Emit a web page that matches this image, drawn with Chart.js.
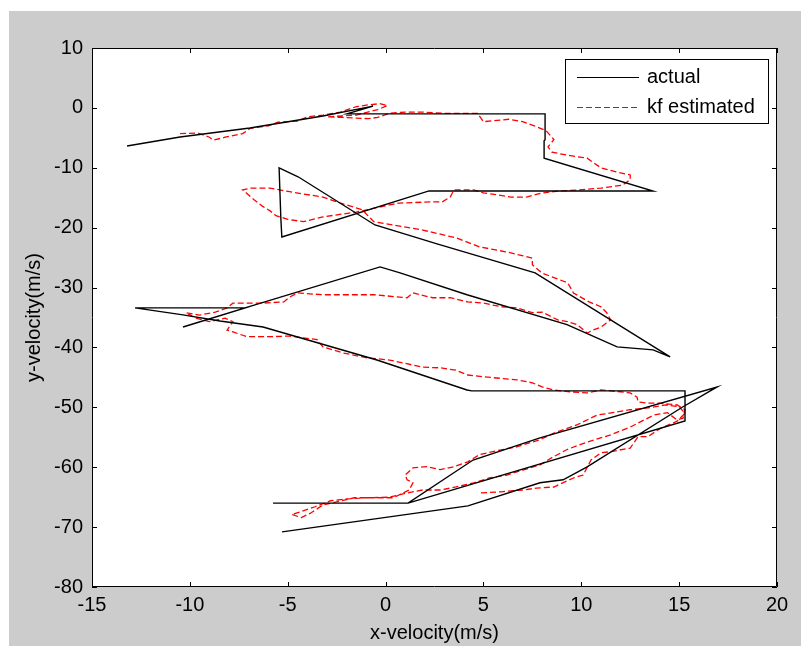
<!DOCTYPE html>
<html lang="en">
<head>
<meta charset="UTF-8">
<title>x-velocity vs y-velocity</title>
<script src="https://cdn.jsdelivr.net/npm/chart.js@4"></script>
<style>
  html, body { margin: 0; padding: 0; background: #ffffff; }
  #fig { position: absolute; left: 9px; top: 11px; width: 792px; height: 635px; background: #cccccc; }
  #chart { display: block; }
</style>
</head>
<body>
<div id="fig"><canvas id="chart" width="792" height="635"></canvas></div>
<script>
// true trajectory (black)
const actualX = [-13.21, -10.50, -6.93, -3.20, -0.64, -1.97, 8.15, 8.15, 8.10, 8.10, 13.67, 2.22, -5.30, -5.35, -5.44,
  -4.47, -0.54, 2.63, 7.64, 14.54, 13.67, 11.83, 9.27, 4.16, 0.74, -0.28, -7.18, -10.35, -7.18, -12.80,
  -10.35, -8.46, -6.26, -0.44, 4.16, 4.40, 15.30, 15.30, 1.15, -5.75, 1.15, 4.47, 7.89, 16.94, 15.20,
  10.30, 9.07, 7.89, 4.21, -5.29];
const actualY = [-6.36, -4.86, -3.36, -1.35, 0.30, -1.00, -1.00, -5.30, -5.50, -8.40, -13.87, -13.87, -21.55, -18.50, -10.03,
  -11.50, -19.55, -22.70, -27.56, -41.59, -40.40, -39.90, -36.20, -31.20, -27.56, -26.56, -33.40, -36.58, -33.40, -33.40,
  -34.57, -35.58, -36.58, -42.09, -47.10, -47.26, -47.26, -52.27, -66.00, -66.00, -66.00, -58.80, -55.10, -46.60, -49.90,
  -59.95, -62.10, -62.60, -66.46, -70.80];

// kalman filter estimate (red dashed)
const kfX = [-10.5, -9.6, -9.0, -8.8, -8.2, -7.3, -6.9, -6.0, -5.5, -4.5, -4.0, -3.2, -2.3, -1.5, -0.9, -0.3, 0.1, -0.4,
  -1.5, -3.0, -2.2, -0.9, -0.4, 0.2, 1.0, 1.9, 3.0, 4.7, 5.0, 5.7, 6.3, 7.0, 7.6, 8.2, 8.6, 8.3, 8.5, 9.3, 10.3,
  11.0, 11.8, 12.5, 12.5, 12.1, 11.0, 9.9, 8.8, 8.0, 7.2, 6.4, 5.7, 5.0, 4.5, 3.5, 3.3, 2.9, 2.3, 0.7, 0.2, -1.5,
  -3.2, -4.2, -5.0, -5.6, -5.9, -6.3, -6.7, -7.3, -6.9, -5.9, -4.9, -3.2, -2.3, -1.2, -0.6, 1.9, 3.6, 4.8, 6.4,
  7.5, 7.5, 8.0, 9.3, 9.6, 10.4, 11.0, 11.3, 11.5, 11.0, 10.6, 10.3, 9.8, 9.3, 8.8, 8.0, 7.5, 6.7, 5.9, 5.0, 4.2,
  3.3, 2.4, 1.4, 1.1, -0.6, -1.5, -3.2, -4.5, -4.9, -5.2, -6.3, -6.9, -7.8, -8.1, -8.7, -9.5, -10.2, -9.7, -9.0,
  -8.2, -7.8, -8.1, -7.8, -7.1, -5.9, -4.9, -4.2, -3.5, -3.2, -2.2, -1.0, 0.2, 1.9, 2.8, 3.6, 4.2, 5.0, 6.7, 7.5,
  8.0, 8.6, 9.4, 10.3, 11.0, 12.0, 12.5, 12.85, 12.9, 13.4, 14.0, 14.9, 15.3, 15.2, 14.9, 14.4, 13.7, 12.5, 11.5,
  10.3, 9.3, 8.5, 7.9, 7.0, 6.2, 5.3, 4.5, 3.6, 2.8, 1.9, 1.1, 0.2, -1.0, -2.0, -2.8, -3.6, -4.3, -4.8, -4.3, -3.8,
  -3.2, -2.5, -1.6, -0.6, 0.4, 0.9, 1.2, 1.4, 1.1, 1.0, 1.4, 2.1, 2.8, 3.5, 4.2, 4.8, 5.9, 6.7, 7.9, 8.6, 9.8, 10.8,
  11.6, 12.5, 13.4, 14.3, 15.0, 15.3, 14.9, 14.0, 13.4, 12.9, 12.5, 11.5, 11.0, 10.5, 10.3, 10.1, 9.6, 8.6, 7.7,
  7.0, 5.9, 4.8];
const kfY = [-4.3, -4.2, -4.9, -5.4, -4.9, -4.3, -3.4, -3.0, -2.4, -2.2, -1.5, -1.2, -0.7, 0.2, 0.5, 0.7, 0.4, -0.3,
  -1.2, -1.5, -1.6, -1.8, -1.6, -0.9, -0.7, -0.7, -0.9, -0.9, -2.3, -2.1, -1.9, -2.3, -3.0, -3.8, -5.3, -6.5, -7.4,
  -7.9, -8.4, -10.0, -10.7, -11.2, -12.0, -12.9, -13.4, -13.7, -13.9, -14.2, -14.9, -14.9, -14.5, -14.2, -13.7,
  -13.7, -14.9, -15.7, -15.7, -15.9, -16.2, -17.4, -18.2, -19.0, -18.6, -18.0, -17.2, -16.4, -15.4, -13.7, -13.4,
  -13.4, -14.0, -14.9, -15.9, -17.0, -19.0, -20.4, -21.7, -23.2, -24.2, -25.1, -26.2, -27.6, -29.2, -30.9, -32.4,
  -33.2, -34.2, -35.4, -36.6, -37.1, -37.6, -36.2, -35.7, -35.4, -34.1, -34.2, -33.4, -33.2, -32.6, -32.4, -31.7,
  -31.7, -30.9, -31.7, -31.2, -31.2, -31.2, -30.9, -31.6, -32.4, -32.6, -32.6, -32.6, -33.4, -34.1, -34.6, -34.2,
  -35.1, -35.7, -35.1, -35.7, -37.1, -37.4, -38.2, -38.2, -38.1, -38.4, -38.7, -39.9, -40.9, -41.7, -42.1, -43.3,
  -43.4, -43.8, -44.6, -44.9, -45.4, -45.9, -46.6, -47.1, -47.4, -47.6, -47.1, -47.4, -47.6, -48.3, -49.1, -49.3,
  -49.3, -49.6, -50.4, -51.8, -52.1, -50.9, -51.3, -53.3, -54.6, -55.8, -57.0, -58.4, -59.6, -60.5, -61.3, -61.8,
  -62.6, -63.3, -63.8, -63.8, -64.3, -65.0, -65.1, -65.3, -65.6, -66.6, -67.4, -67.9, -68.4, -67.6, -66.3, -65.8,
  -65.1, -65.1, -65.1, -64.3, -63.8, -62.6, -62.1, -61.3, -60.1, -59.9, -60.4, -59.9, -59.1, -57.9, -57.1, -56.6,
  -55.4, -54.3, -52.9, -51.3, -50.9, -50.4, -50.1, -49.6, -49.9, -51.0, -52.3, -53.6, -54.9, -54.9, -56.8, -57.4,
  -57.6, -58.8, -60.0, -61.3, -61.8, -63.3, -63.5, -63.8, -64.1, -64.3];

const xTicks = [-15, -10, -5, 0, 5, 10, 15, 20];
const yTicks = [-80, -70, -60, -50, -40, -30, -20, -10, 0, 10];

const FONT = '"Liberation Sans", Arial, sans-serif';

function toPoints(xs, ys) {
  return xs.map((x, i) => ({ x: x, y: ys[i] }));
}

// white axes box, frame and inward ticks like a matlab figure
const matlabAxes = {
  id: 'matlabAxes',
  beforeDraw(chart) {
    const { ctx, chartArea: a } = chart;
    ctx.save();
    ctx.fillStyle = '#ffffff';
    ctx.fillRect(a.left, a.top, a.right - a.left, a.bottom - a.top);
    ctx.restore();
  },
  beforeDatasetsDraw(chart) {
    const { ctx, chartArea: a, scales } = chart;
    const len = 5;
    ctx.save();
    ctx.strokeStyle = '#000000';
    ctx.lineWidth = 1;
    ctx.beginPath();
    ctx.rect(a.left + 0.5, a.top + 0.5, a.right - a.left - 1, a.bottom - a.top - 1);
    xTicks.forEach(v => {
      const px = Math.round(scales.x.getPixelForValue(v)) + 0.5;
      ctx.moveTo(px, a.bottom); ctx.lineTo(px, a.bottom - len);
      ctx.moveTo(px, a.top); ctx.lineTo(px, a.top + len);
    });
    yTicks.forEach(v => {
      const py = Math.round(scales.y.getPixelForValue(v)) + 0.5;
      ctx.moveTo(a.left, py); ctx.lineTo(a.left + len, py);
      ctx.moveTo(a.right, py); ctx.lineTo(a.right - len, py);
    });
    ctx.stroke();
    ctx.restore();
  },
  afterDraw(chart) {
    // legend box in the upper right corner
    const { ctx, chartArea: a } = chart;
    const w = 204, h = 65;
    const left = a.right - 8 - w, top = a.top + 11;
    ctx.save();
    ctx.fillStyle = '#ffffff';
    ctx.fillRect(left, top, w, h);
    ctx.strokeStyle = '#000000';
    ctx.lineWidth = 1;
    ctx.strokeRect(left + 0.5, top + 0.5, w - 1, h - 1);
    ctx.font = '20px ' + FONT;
    ctx.textBaseline = 'middle';
    ctx.textAlign = 'left';
    chart.data.datasets.forEach((ds, i) => {
      const y = top + 18 + i * 30 + 0.5;
      ctx.strokeStyle = ds.borderColor;
      ctx.lineWidth = 1;
      ctx.setLineDash(ds.borderDash || []);
      ctx.beginPath();
      ctx.moveTo(left + 12, y);
      ctx.lineTo(left + 74, y);
      ctx.stroke();
      ctx.setLineDash([]);
      ctx.fillStyle = '#000000';
      ctx.fillText(ds.label, left + 82, y);
    });
    ctx.restore();
  }
};

const tickFont = { family: FONT, size: 20 };

new Chart(document.getElementById('chart'), {
  type: 'scatter',
  data: {
    datasets: [
      {
        label: 'actual',
        data: toPoints(actualX, actualY),
        showLine: true,
        borderColor: '#000000',
        borderWidth: 1.4,
        pointRadius: 0,
        tension: 0
      },
      {
        label: 'kf estimated',
        data: toPoints(kfX, kfY),
        showLine: true,
        borderColor: '#ff0000',
        borderWidth: 1.3,
        borderDash: [6, 3],
        pointRadius: 0,
        tension: 0
      }
    ]
  },
  options: {
    responsive: false,
    animation: false,
    layout: { padding: { left: 0, top: 37, right: 24, bottom: 0 } },
    plugins: { legend: { display: false }, tooltip: { enabled: false } },
    scales: {
      x: {
        type: 'linear',
        min: -15, max: 20,
        afterBuildTicks: s => { s.ticks = xTicks.map(v => ({ value: v })); },
        afterFit: s => { s.height = 59; },
        grid: { display: false, drawTicks: false },
        border: { display: false },
        ticks: { color: '#000000', font: tickFont, padding: 6, maxRotation: 0, callback: v => String(v) },
        title: { display: true, text: 'x-velocity(m/s)', color: '#000000', font: tickFont, padding: { top: 0, bottom: 1 } }
      },
      y: {
        type: 'linear',
        min: -80, max: 10,
        afterBuildTicks: s => { s.ticks = yTicks.map(v => ({ value: v })); },
        afterFit: s => { s.width = 83; },
        grid: { display: false, drawTicks: false },
        border: { display: false },
        ticks: { color: '#000000', font: tickFont, padding: 9, callback: v => String(v) },
        title: { display: true, text: 'y-velocity(m/s)', color: '#000000', font: tickFont, padding: { top: 13, bottom: 0 } }
      }
    }
  },
  plugins: [matlabAxes]
});
</script>
</body>
</html>
